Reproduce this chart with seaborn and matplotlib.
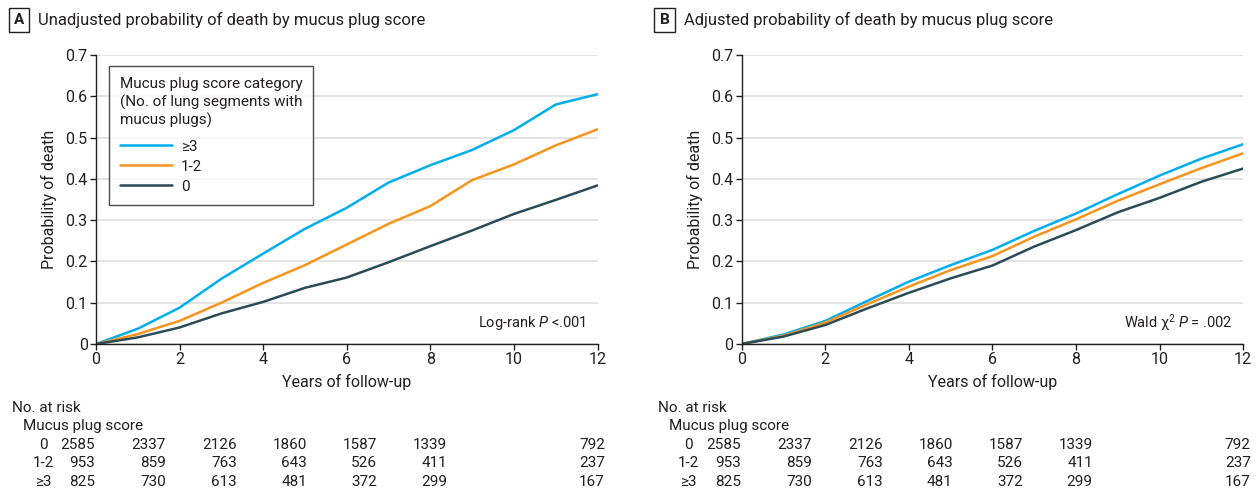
import numpy as np
import pandas as pd
import matplotlib
matplotlib.use('Agg')
import matplotlib.pyplot as plt
import seaborn as sns

sns.set_theme(style='white')
plt.rcParams['font.family'] = ['Roboto', 'DejaVu Sans']
plt.rcParams['mathtext.fontset'] = 'custom'
plt.rcParams['mathtext.rm'] = 'Roboto'
plt.rcParams['mathtext.it'] = 'Roboto:italic'

# data
years = [0, 1, 2, 3, 4, 5, 6, 7, 8, 9, 10, 11, 12]
groups = ['≥3', '1-2', '0']

unadj_ge3 = [0, 0.037, 0.088, 0.158, 0.219, 0.279, 0.330, 0.391, 0.433, 0.470, 0.518, 0.580, 0.605]
unadj_12 = [0, 0.024, 0.056, 0.100, 0.148, 0.191, 0.241, 0.291, 0.334, 0.397, 0.435, 0.481, 0.520]
unadj_0 = [0, 0.016, 0.040, 0.074, 0.102, 0.136, 0.161, 0.198, 0.237, 0.275, 0.315, 0.349, 0.384]

adj_ge3 = [0, 0.023, 0.056, 0.104, 0.151, 0.191, 0.228, 0.274, 0.316, 0.363, 0.408, 0.449, 0.484]
adj_12 = [0, 0.020, 0.052, 0.096, 0.139, 0.179, 0.213, 0.260, 0.302, 0.347, 0.387, 0.426, 0.462]
adj_0 = [0, 0.018, 0.046, 0.086, 0.124, 0.159, 0.190, 0.236, 0.276, 0.319, 0.354, 0.393, 0.425]

risk_labels = ['0', '1-2', '≥3']
risk_0 = [2585, 2337, 2126, 1860, 1587, 1339, 792]
risk_12 = [953, 859, 763, 643, 526, 411, 237]
risk_ge3 = [825, 730, 613, 481, 372, 299, 167]

panel_titles = ['Unadjusted probability of death by mucus plug score',
                'Adjusted probability of death by mucus plug score']
panel_letters = ['A', 'B']
panel_notes = ['Log-rank $\\it{P}$ <.001', 'Wald χ$^2$ $\\it{P}$ = .002']

palette = {'≥3': '#00AEEF', '1-2': '#F7941D', '0': '#2C4B58'}
text_col = '#231F20'


def long_df(a, b, c):
    frames = []
    for g, vals in zip(groups, [a, b, c]):
        frames.append(pd.DataFrame({'Years': years, 'Prob': vals, 'Group': g}))
    return pd.concat(frames, ignore_index=True)


fig = plt.figure(figsize=(12.6, 4.91), dpi=100)
W, H = 1260, 491

ax_lefts = [96, 741.7]
ax_w = 501.5
ax_top, ax_bot = 55, 344
# right edges (pixels from the axis origin) of the risk table columns
col_offsets = [-1, 70, 141, 211, 281, 351, 509]

datasets = [long_df(unadj_ge3, unadj_12, unadj_0), long_df(adj_ge3, adj_12, adj_0)]

for i, df in enumerate(datasets):
    x0 = ax_lefts[i]
    ax = fig.add_axes([x0 / W, 1 - ax_bot / H, ax_w / W, (ax_bot - ax_top) / H])
    sns.lineplot(data=df, x='Years', y='Prob', hue='Group', hue_order=groups,
                 palette=palette, linewidth=1.8, ax=ax, legend=(i == 0))
    ax.set_xlim(0, 12)
    ax.set_ylim(0, 0.7)
    ax.set_xticks(range(0, 13, 2))
    ax.set_yticks(np.arange(0, 0.71, 0.1))
    ax.yaxis.set_major_formatter(plt.FuncFormatter(lambda v, p: '0' if abs(v) < 1e-9 else f'{v:.1f}'))
    ax.grid(True, axis='y', color='#E2E2E2', linewidth=1.3)
    ax.set_axisbelow(True)
    for s in ['top', 'right']:
        ax.spines[s].set_visible(False)
    for s in ['left', 'bottom']:
        ax.spines[s].set_color(text_col)
        ax.spines[s].set_linewidth(1.0)
    ax.tick_params(axis='both', direction='out', length=4, width=1, color=text_col,
                   labelsize=11.5, labelcolor=text_col, pad=2, left=True, bottom=True)
    ax.set_xlabel('Years of follow-up', fontsize=11.5, color=text_col, labelpad=5)
    ax.set_ylabel('Probability of death', fontsize=11.5, color=text_col, labelpad=6)

    ax.text(0.978, 0.073, panel_notes[i], transform=ax.transAxes, ha='right', va='center',
            fontsize=10.5, color=text_col)

    if i == 0:
        leg = ax.legend(title='Mucus plug score category\n(No. of lung segments with\nmucus plugs)',
                        loc='upper left', bbox_to_anchor=(0.026, 0.962), borderaxespad=0,
                        fontsize=11, title_fontsize=11, frameon=True, fancybox=False,
                        handlelength=3.4, handletextpad=0.6, labelspacing=0.4, borderpad=0.7)
        leg.get_frame().set_edgecolor(text_col)
        leg.get_frame().set_linewidth(1.0)
        leg._legend_box.align = 'left'
        leg._legend_box.sep = 8
        for t in leg.get_texts():
            t.set_color(text_col)
        leg.get_title().set_color(text_col)
        leg.get_title().set_linespacing(1.3)

    # panel title
    fig.text((x0 - 77) / W, 1 - 20 / H, panel_letters[i], ha='center', va='center',
             fontsize=11, fontweight='bold', color=text_col,
             bbox=dict(boxstyle='square,pad=0.35', fc='white', ec=text_col, lw=1))
    fig.text((x0 - 58) / W, 1 - 20 / H, panel_titles[i], ha='left', va='center',
             fontsize=12, color=text_col)

    # number at risk table
    fig.text((x0 - 84) / W, 1 - 408 / H, 'No. at risk', ha='left', va='center',
             fontsize=11, color=text_col)
    fig.text((x0 - 73) / W, 1 - 426 / H, 'Mucus plug score', ha='left', va='center',
             fontsize=11, color=text_col)
    for lab, row, py in zip(risk_labels, [risk_0, risk_12, risk_ge3], [445, 463, 482]):
        fig.text((x0 - 53) / W, 1 - py / H, lab, ha='center', va='center',
                 fontsize=11, color=text_col)
        for off, n in zip(col_offsets, row):
            fig.text((x0 + off) / W, 1 - py / H, str(n), ha='right', va='center',
                     fontsize=11, color=text_col)

fig.savefig('out.png', dpi=100, facecolor='white')
